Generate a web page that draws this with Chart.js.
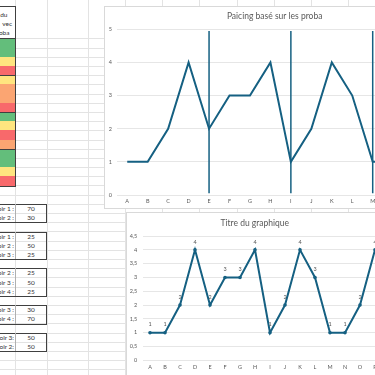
<!DOCTYPE html>
<html lang="fr">
<head>
<meta charset="utf-8">
<script src="https://cdn.jsdelivr.net/npm/chart.js@4.4.1/dist/chart.umd.min.js"></script>
<style>
html, body { margin: 0; padding: 0; }
body { width: 375px; height: 375px; overflow: hidden; position: relative; background: #fff; font-family: Lato, "Liberation Sans", sans-serif; color: #333; }
#feuille { position: absolute; left: 0; top: 0; width: 375px; height: 375px; }
.hl { position: absolute; left: 0; width: 375px; height: 1px; background: #e3e3e3; }
.vl { position: absolute; top: 0; width: 1px; height: 375px; background: #e3e3e3; }
.bloc { position: absolute; box-sizing: border-box; border: 1px solid #404040; }
.txt { position: absolute; font-size: 6.5px; line-height: 9px; white-space: nowrap; }
.carte { position: absolute; background: #fff; border: 1px solid #d9d9d9; }
.carte canvas { position: absolute; left: 0; top: 0; }
</style>
</head>
<body>
<div id="feuille"></div>

<div class="carte" style="left:104px; top:6px; width:346px; height:201px;">
    <canvas id="graphHaut" width="346" height="201"></canvas>
</div>
<div class="carte" style="left:126px; top:212px; width:261px; height:168px;">
    <canvas id="graphBas" width="261" height="168"></canvas>
</div>

<script>
// Data
const categories = ["A", "B", "C", "D", "E", "F", "G", "H", "I", "J", "K", "L", "M", "N", "O", "P"];
const valeurs = [1, 1, 2, 4, 2, 3, 3, 4, 1, 2, 4, 3, 1, 1, 2, 4];
const separations = ["E", "I", "M"];
const separationBas = 0.05;
const separationHaut = 4.95;
const titreHaut = "Paicing basé sur les proba";
const titreBas = "Titre du graphique";

// Left table (conditional colours)
const enteteLignes = ["du", "vec", "oba"];
const couleursProba = ["vert", "vert", "jaune", "rouge", "jaune", "orange", "orange", "rouge",
                       "vert", "jaune", "rouge", "orange", "vert", "vert", "jaune", "rouge"];
const tableauxLibelles = [
    ["oir 1 :", "oir 2 :"],
    ["oir 1 :", "oir 2 :", "oir 3 :"],
    ["oir 2 :", "oir 3 :", "oir 4 :"],
    ["oir 3 :", "oir 4 :"],
    ["oir 3:", "oir 2:"]
];
const tableauxValeurs = [
    [70, 30],
    [25, 50, 25],
    [25, 50, 25],
    [30, 70],
    [50, 50]
];

// Sheet layout
const teintes = { vert: "#63be7b", jaune: "#ffe57f", rouge: "#f8696b", orange: "#fba572" };
const ligneH = 9.2, ligne0 = 38.3;
const colonnesX = [15, 47, 88, 125, 162, 199, 237, 274, 311, 348];
const debutsTableaux = [18, 21, 25, 29, 32];
const feuille = document.getElementById("feuille");

function ajouter(cls, style, texte) {
    const el = document.createElement("div");
    el.className = cls;
    el.style.cssText = style;
    if (texte !== undefined) el.textContent = texte;
    feuille.appendChild(el);
    return el;
}

for (let y = ligne0; y < 375; y += ligneH) ajouter("hl", `top:${Math.round(y)}px`);
colonnesX.forEach(x => ajouter("vl", `left:${x}px`));

// header cell
ajouter("bloc", `left:-1px; top:6px; width:17px; height:${Math.round(ligne0) - 5}px; background:#fff;`);
const finsEntete = [7.5, 12, 9.5];
enteteLignes.forEach((t, i) => {
    ajouter("txt", `right:${375 - finsEntete[i]}px; top:${9.5 + i * 9}px;`, t);
});

// coloured blocks, 4 rows each
for (let g = 0; g < 4; g++) {
    const top = Math.round(ligne0 + g * 4 * ligneH);
    const bas = Math.round(ligne0 + (g + 1) * 4 * ligneH);
    const bloc = ajouter("bloc", `left:-1px; top:${top}px; width:17px; height:${bas - top + 1}px; overflow:hidden;`);
    for (let r = 0; r < 4; r++) {
        const y0 = Math.round(ligne0 + (g * 4 + r) * ligneH) - top;
        const y1 = Math.round(ligne0 + (g * 4 + r + 1) * ligneH) - top;
        const c = document.createElement("div");
        c.style.cssText = `position:absolute; left:0; width:16px; top:${y0 - 1}px; height:${y1 - y0}px; background:${teintes[couleursProba[g * 4 + r]]};`;
        bloc.appendChild(c);
    }
}

// small tables
tableauxLibelles.forEach((libs, t) => {
    const top = Math.round(ligne0 + debutsTableaux[t] * ligneH);
    const bas = Math.round(ligne0 + (debutsTableaux[t] + libs.length) * ligneH);
    ajouter("bloc", `left:-1px; top:${top}px; width:48px; height:${bas - top + 1}px;`);
    ajouter("vl", `left:15px; top:${top}px; height:${bas - top}px; background:#b0b0b0;`);
    libs.forEach((lib, r) => {
        const y = ligne0 + (debutsTableaux[t] + r) * ligneH;
        ajouter("txt", `right:${375 - 14}px; top:${y}px;`, lib);
        ajouter("txt", `left:16px; width:30px; text-align:center; top:${y}px;`, String(tableauxValeurs[t][r]));
    });
});

// Charts
const bleu = "#156082";
const gris = "#595959";
const police = "Lato, 'Liberation Sans', sans-serif";

const etiquettes = {
    id: "etiquettes",
    afterDatasetsDraw(chart) {
        const ctx = chart.ctx;
        const meta = chart.getDatasetMeta(0);
        ctx.save();
        ctx.font = "5.5px " + police;
        ctx.fillStyle = gris;
        ctx.textAlign = "center";
        ctx.textBaseline = "middle";
        meta.data.forEach((pt, i) => ctx.fillText(String(valeurs[i]), pt.x, pt.y - 8));
        ctx.restore();
    }
};

new Chart(document.getElementById("graphHaut"), {
    type: "line",
    data: {
        labels: categories,
        datasets: [
            { data: valeurs, borderColor: bleu, borderWidth: 2, pointRadius: 0, tension: 0 },
            ...separations.map(c => ({
                data: [{ x: c, y: separationBas }, { x: c, y: separationHaut }],
                borderColor: bleu, borderWidth: 1.5, pointRadius: 0
            }))
        ]
    },
    options: {
        responsive: false,
        animation: false,
        devicePixelRatio: 1,
        layout: { padding: { left: 0, right: 6.7, top: 0, bottom: 0 } },
        plugins: {
            legend: { display: false },
            tooltip: { enabled: false },
            title: {
                display: true, text: titreHaut, color: gris,
                font: { family: police, size: 8.5, weight: "normal", lineHeight: 1.2 },
                padding: { top: 3.9, bottom: 8.2 }
            }
        },
        scales: {
            x: {
                offset: true,
                grid: { display: false, drawTicks: false },
                border: { display: false },
                ticks: { color: gris, font: { family: police, size: 5.5 }, padding: 3, maxRotation: 0, autoSkip: false },
                afterFit: s => { s.height = 13; }
            },
            y: {
                min: 0, max: 5,
                grid: { color: "#e6e6e6", drawTicks: false },
                border: { display: false },
                ticks: { stepSize: 1, color: gris, font: { family: police, size: 5.5 }, padding: 5 },
                afterFit: s => { s.width = 12; }
            }
        }
    }
});

new Chart(document.getElementById("graphBas"), {
    type: "line",
    data: {
        labels: categories,
        datasets: [{
            data: valeurs, borderColor: bleu, borderWidth: 2, tension: 0,
            pointRadius: 1.8, pointBackgroundColor: bleu, pointBorderWidth: 0
        }]
    },
    options: {
        responsive: false,
        animation: false,
        devicePixelRatio: 1,
        layout: { padding: { left: 0, right: 5.5, top: 0, bottom: 0 } },
        plugins: {
            legend: { display: false },
            tooltip: { enabled: false },
            title: {
                display: true, text: titreBas, color: gris,
                font: { family: police, size: 8.5, weight: "normal", lineHeight: 1.2 },
                padding: { top: 5.2, bottom: 7.6 }
            }
        },
        scales: {
            x: {
                offset: true,
                grid: { display: false, drawTicks: false },
                border: { display: false },
                ticks: { color: gris, font: { family: police, size: 5.5 }, padding: 4.1, maxRotation: 0, autoSkip: false },
                afterFit: s => { s.height = 20.7; }
            },
            y: {
                min: 0, max: 4.5,
                grid: { color: "#e6e6e6", drawTicks: false },
                border: { display: false },
                ticks: {
                    stepSize: 0.5, color: gris, font: { family: police, size: 5.5 }, padding: 5.2,
                    callback: v => String(v).replace(".", ",")
                },
                afterFit: s => { s.width = 15.5; }
            }
        }
    },
    plugins: [etiquettes]
});
</script>
</body>
</html>
